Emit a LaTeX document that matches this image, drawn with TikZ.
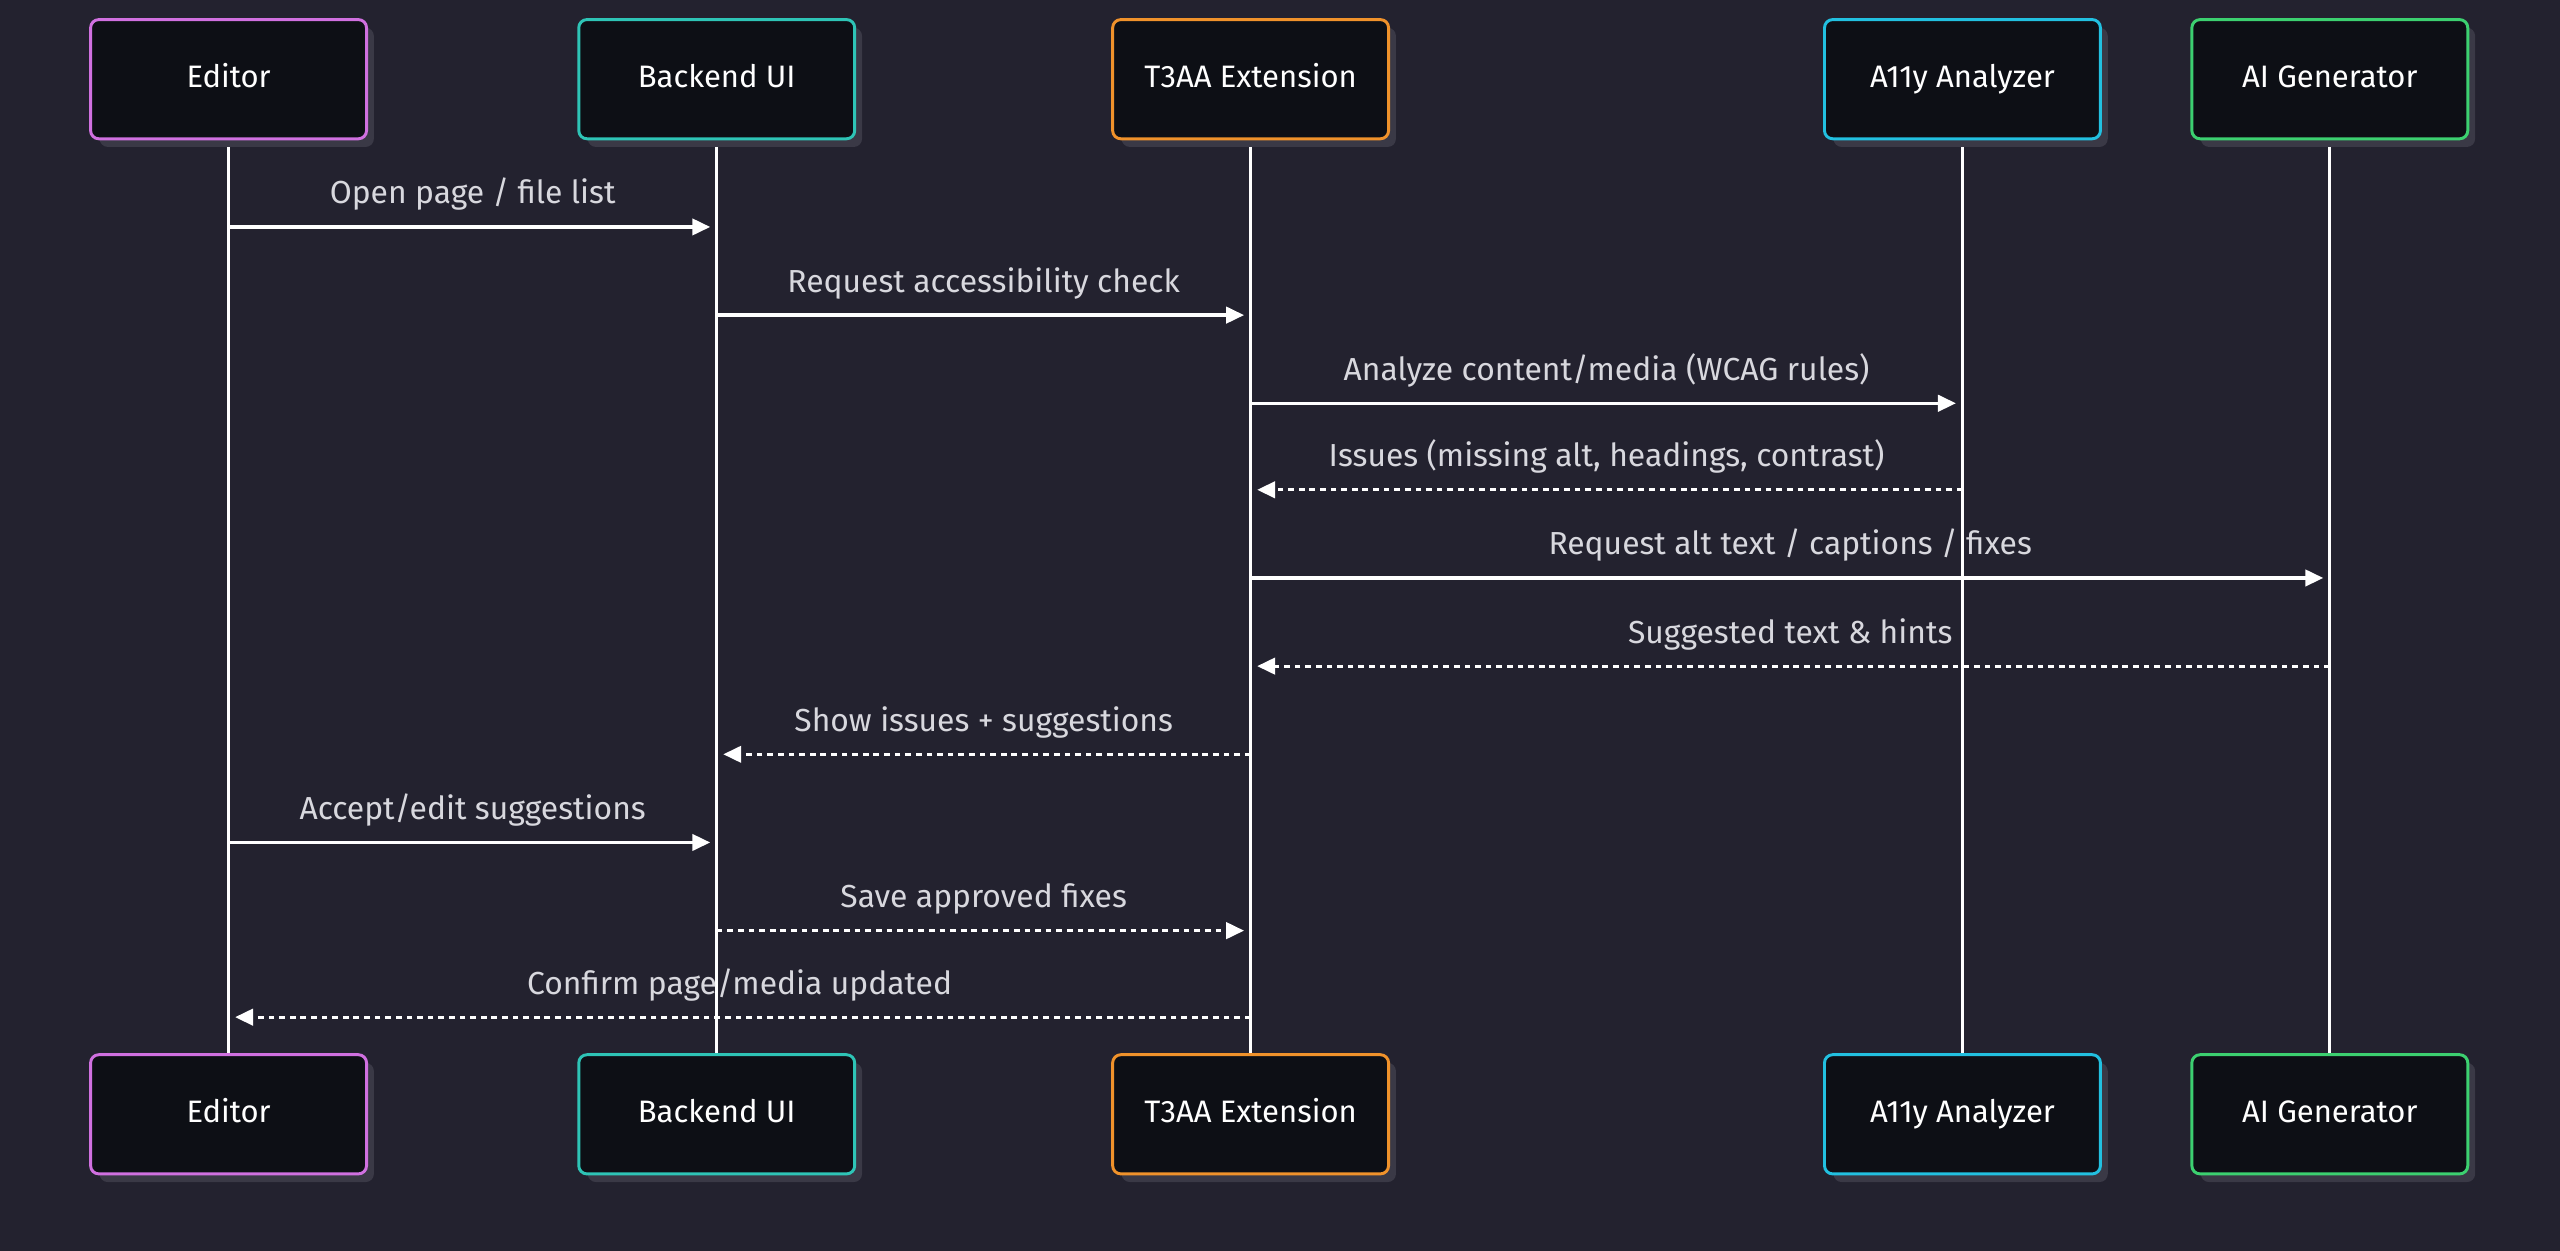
\documentclass[tikz,border=0pt]{standalone}
\usepackage{fontspec}
\setmainfont{Fira Sans}
\usetikzlibrary{arrows.meta}
\definecolor{bg}{HTML}{23222F}
\definecolor{boxfill}{HTML}{0D0F15}
\definecolor{shadow}{HTML}{3A3946}
\definecolor{cEd}{HTML}{D070E0}
\definecolor{cBe}{HTML}{2EC4B6}
\definecolor{cT3}{HTML}{F0922B}
\definecolor{cA11}{HTML}{22C0E0}
\definecolor{cAI}{HTML}{3CD070}
\definecolor{txt}{HTML}{D8D8DE}
\begin{document}
\begin{tikzpicture}[x=1pt,y=1pt,
  actor/.style={draw=#1,line width=1.8pt,fill=boxfill,rounded corners=5pt,minimum width=169pt,minimum height=73pt,text=white,text height=14pt,text depth=4pt,font=\fontsize{19}{22}\selectfont},
  life/.style={white,line width=2pt},
  msg/.style={white,line width=2pt,-{Triangle[length=11pt,width=10pt]},shorten >=4pt},
  ret/.style={msg,dash pattern=on 3.5pt off 3pt},
  lbl/.style={text=txt,font=\fontsize{19.5}{22}\selectfont,anchor=south,inner sep=2pt,yshift=7pt}]
\fill[bg] (0,0) rectangle (1568,-766);
\useasboundingbox (0,0) rectangle (1568,-766);
\foreach \x/\n/\c/\t in {140/ed/cEd/Editor,439/be/cBe/Backend UI,766/t3/cT3/T3AA Extension,1202/a11/cA11/A11y Analyzer,1427/ai/cAI/AI Generator}{
  \draw[life] (\x,-85) -- (\x,-646);
  \fill[shadow,rounded corners=5pt] (\x-84+5,-17) rectangle (\x+84+5,-90);
  \fill[shadow,rounded corners=5pt] (\x-84+5,-651) rectangle (\x+84+5,-724);
  \node[actor=\c] (\n top) at (\x,-48.5) {\t};
  \node[actor=\c] (\n bot) at (\x,-682.5) {\t};
  \foreach \i/\y in {1/139,2/193,3/247,4/300,5/354,6/408,7/462,8/516,9/570,10/623}
    \coordinate (\n\i) at (\x,-\y);
}
\draw[msg] (ed1) -- node[lbl]{Open page / file list} (be1);
\draw[msg] (be2) -- node[lbl]{Request accessibility check} (t32);
\draw[msg] (t33) -- node[lbl]{Analyze content/media (WCAG rules)} (a113);
\draw[ret] (a114) -- node[lbl]{Issues (missing alt, headings, contrast)} (t34);
\draw[msg] (t35) -- node[lbl]{Request alt text / captions / fixes} (ai5);
\draw[ret] (ai6) -- node[lbl]{Suggested text \& hints} (t36);
\draw[ret] (t37) -- node[lbl]{Show issues + suggestions} (be7);
\draw[msg] (ed8) -- node[lbl]{Accept/edit suggestions} (be8);
\draw[ret] (be9) -- node[lbl]{Save approved fixes} (t39);
\draw[ret] (t310) -- node[lbl]{Confirm page/media updated} (ed10);
\end{tikzpicture}
\end{document}
